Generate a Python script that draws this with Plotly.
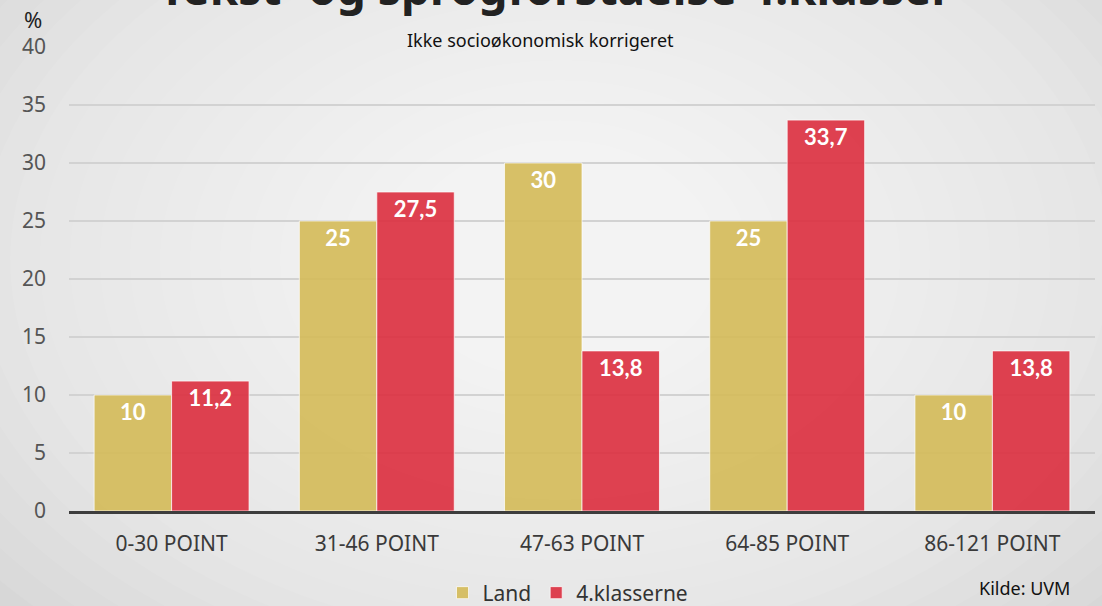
import plotly.graph_objects as go

categories = ["0-30 POINT", "31-46 POINT", "47-63 POINT", "64-85 POINT", "86-121 POINT"]
land = [10, 25, 30, 25, 10]
klasser = [11.2, 27.5, 13.8, 33.7, 13.8]
land_txt = ["10", "25", "30", "25", "10"]
klasser_txt = ["11,2", "27,5", "13,8", "33,7", "13,8"]

W, H = 1102, 606
L, R, T, B = 69, 7, 47, 95

fig = go.Figure()
fig.add_trace(go.Bar(
    x=categories, y=land, name="Land", text=land_txt,
    marker=dict(color="rgba(212,186,88,0.9)", line=dict(color="rgba(255,255,255,0.7)", width=1)),
    textposition="inside", insidetextanchor="end",
    textfont=dict(color="white", size=22, family="Lato", weight="bold"),
))
fig.add_trace(go.Bar(
    x=categories, y=klasser, name="4.klasserne", text=klasser_txt,
    marker=dict(color="rgba(219,45,62,0.9)", line=dict(color="rgba(255,255,255,0.7)", width=1)),
    textposition="inside", insidetextanchor="end",
    textfont=dict(color="white", size=22, family="Lato", weight="bold"),
))

# radial-ish background: grey page with a light centre
shapes = []
pw, ph = W - L - R, H - T - B
cx, cy = 560, 260
n = 26
for i in range(n):
    rx = 880 - i * 30
    ry = 600 - i * 20
    shapes.append(dict(
        type="circle", layer="below", xref="paper", yref="paper",
        x0=(cx - rx - L) / pw, x1=(cx + rx - L) / pw,
        y0=(H - B - (cy + ry)) / ph, y1=(H - B - (cy - ry)) / ph,
        fillcolor="rgba(255,255,255,0.075)", line=dict(width=0),
    ))

fig.update_layout(
    width=W, height=H,
    margin=dict(l=L, r=R, t=T, b=B, autoexpand=False),
    paper_bgcolor="#c6c6c6",
    plot_bgcolor="rgba(0,0,0,0)",
    shapes=shapes,
    barmode="group", bargap=0.245, bargroupgap=0.0,
    font=dict(family="Open Sans", color="#333"),
    showlegend=True,
    legend=dict(orientation="h", x=(568 - L) / pw, xanchor="center",
                yref="container", y=(H - 593) / H, yanchor="middle",
                font=dict(size=21, color="#333", family="Noto Sans"), itemwidth=30,
                bgcolor="rgba(0,0,0,0)"),
    xaxis=dict(showline=True, linecolor="#3d3d3d", linewidth=3, ticks="", automargin=False,
               tickfont=dict(size=21, color="#3a3a3a", family="Noto Sans"),
               ticklabelstandoff=12),
    yaxis=dict(range=[0, 40], dtick=5, showgrid=True, gridcolor="#d2d2d2", gridwidth=2,
               zeroline=False, ticks="", automargin=False,
               tickfont=dict(size=21, color="#555", family="Noto Sans"),
               ticklabelstandoff=22),
    annotations=[
        dict(text="<b>Tekst- og sprogforståelse 4.klasser</b>", xref="paper", yref="paper",
             x=(556 - L) / pw, y=1 + (T - 20) / ph, xanchor="center", yanchor="bottom", showarrow=False,
             font=dict(size=46, color="#222", family="Noto Sans")),
        dict(text="Ikke socioøkonomisk korrigeret", xref="paper", yref="paper",
             x=(540 - L) / pw, y=1 + (T - 40) / ph, xanchor="center", yanchor="middle",
             showarrow=False, font=dict(size=18, color="#111", family="Noto Sans")),
        dict(text="%", xref="paper", yref="paper", x=(33 - L) / pw, y=1 + (T - 19) / ph,
             xanchor="center", yanchor="middle", showarrow=False,
             font=dict(size=22, color="#222", family="Noto Sans")),
        dict(text="Kilde: UVM", xref="paper", yref="paper", x=(1072 - L) / pw,
             y=-(588 - (H - B)) / ph, xanchor="right", yanchor="middle", showarrow=False,
             font=dict(size=18, color="#111", family="Noto Sans")),
    ],
)

fig.write_html("out.html", config={"displayModeBar": False},
               post_script="document.body.style.margin='0';")
